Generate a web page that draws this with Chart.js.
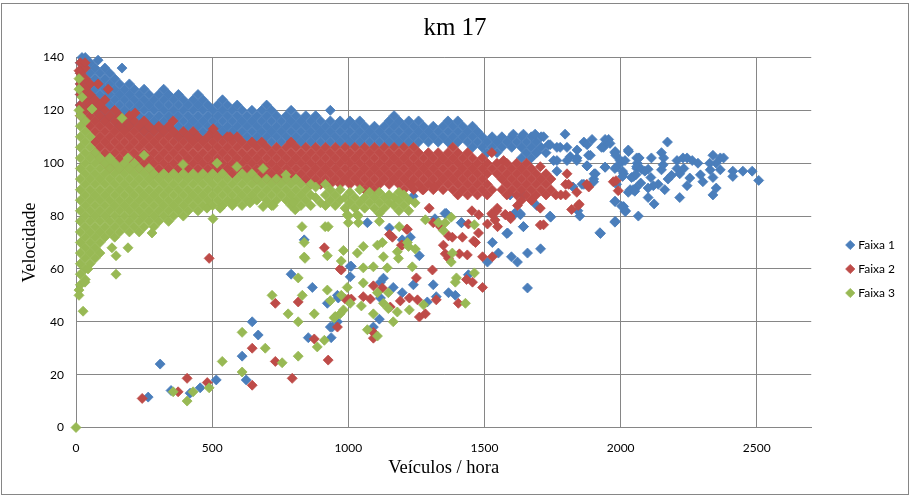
<!DOCTYPE html>
<html>
<head>
<meta charset="utf-8">
<title>km 17</title>
<script src="https://cdn.jsdelivr.net/npm/chart.js@4/dist/chart.umd.min.js"></script>
<style>
  html, body { margin: 0; padding: 0; background: #fff; overflow: hidden; }
  #wrap { position: relative; width: 910px; height: 498px; }
  #frame { position: absolute; left: 1px; top: 3px; width: 906px; height: 490px; border: 1px solid #868686; pointer-events: none; }
</style>
</head>
<body>
<div id="wrap">
  <canvas id="chart" width="910" height="498"></canvas>
  <div id="frame"></div>
</div>
<script>
const xTicks = [0, 500, 1000, 1500, 2000, 2500];
const yTicks = [0, 20, 40, 60, 80, 100, 120, 140];

// dense bands, one row per column: [x, y, y, ...]
const faixa1Colunas = [
  [16,138,134,130,126,122],[34,140,136,132,128,124,120],[52,138,134,130,126,122],[70,136,132,128,124,120],
  [88,134,130,126,122,118],[106,136,132,128,124,120,116],[124,134,130,126,122,118],[142,132,128,124,120,116],
  [160,130,126,122,118,114],[178,128,124,120,116],[196,130,126,122,118,114],[214,128,124,120,116],
  [232,126,122,118,114],[250,128,124,120,116,112],[268,126,122,118,114],[286,124,120,116,112],
  [304,126,122,118,114],[322,128,124,120,116,112],[340,126,122,118,114],[358,124,120,116,112],
  [376,126,122,118,114,110],[394,124,120,116,112],[412,122,118,114,110],[430,124,120,116,112],
  [448,126,122,118,114,110],[466,124,120,116,112],[484,122,118,114,110],[502,120,116,112],[520,122,118,114,110],
  [538,124,120,116,112],[556,122,118,114,110],[574,120,116,112],[592,122,118,114,110],[610,120,116,112],
  [628,118,114,110],[646,120,116,112,108],[664,118,114,110],[682,120,116,112,108],[700,122,118,114,110],
  [718,120,116,112,108],[736,118,114,110],[754,116,112,108],[772,118,114,110],[790,120,116,112,108],
  [808,118,114,110],[826,116,112,108],[844,118,114,110],[862,116,112,108],[880,118,114,110],[898,116,112,108],
  [916,114,110],[934,120,116,112,108],[952,114,110],[970,116,112,108],[988,114,110],[1006,116,112,108],
  [1024,114,110],[1042,116,112,108],[1060,114,110],[1078,112,108],[1096,114,110],[1114,112,108],[1132,114,110],
  [1150,116,112,108],[1168,118,114,110],[1186,116,112,108],[1204,114,110],[1222,116,112,108],[1240,114,110],
  [1258,116,112,108],[1276,114,110],[1294,112,108],[1312,114,110],[1330,112,108],[1348,114,110],[1366,116,112,108],
  [1384,114,110],[1402,116,112,108],[1420,114,110],[1438,112,108],[1456,114,110,106],[1474,112,108],
  [1492,110,106],[1510,108,104],[1528,110,106],[1546,108,104],[1564,110,106],[1582,108],[1600,110,106],[1618,108],
  [1636,110,106,102],[1654,108,104],[1672,110,106,102],[1690,108,104],[1708,110,106],[1726,104]
];
const faixa2Colunas = [
  [16,138,134,130,126,122,118],[34,136,132,128,124,120,116],[52,130,126,122,118,114],[70,124,120,116,112,108,104],
  [88,122,118,114,110,106,102],[106,124,120,116,112,108,104,100],[124,118,114,110,106,102,98],[142,120,116,112,108,104,100],
  [160,118,114,110,106,102,98],[178,116,112,108,104,100],[196,118,114,110,106,102,98],[214,116,112,108,104,100],
  [232,114,110,106,102,98],[250,116,112,108,104,100],[268,114,110,106,102,98],[286,112,108,104,100,96],
  [304,114,110,106,102,98],[322,112,108,104,100,96],[340,114,110,106,102,98],[358,112,108,104,100,96],
  [376,110,106,102,98],[394,112,108,104,100,96],[412,110,106,102,98],[430,112,108,104,100,96],[448,110,106,102,98],
  [466,108,104,100,96],[484,110,106,102,98],[502,112,108,104,100,96],[520,110,106,102,98],[538,108,104,100,96],
  [556,110,106,102,98],[574,108,104,100,96],[592,110,106,102,98],[610,108,104,100,96],[628,106,102,98],
  [646,108,104,100,96],[664,106,102,98,94],[682,108,104,100,96],[700,106,102,98,94],[718,104,100,96],
  [736,106,102,98,94],[754,104,100,96],[772,106,102,98,94],[790,108,104,100,96],[808,106,102,98,94],[826,104,100,96],
  [844,106,102,98,94],[862,104,100,96,92],[880,106,102,98,94],[898,104,100,96,92],[916,106,102,98,94],[934,104,100,96,92],
  [952,106,102,98,94],[970,104,100,96,92],[988,106,102,98,94],[1006,104,100,96,92],[1024,106,102,98,94],[1042,104,100,96,92],
  [1060,106,102,98,94,90],[1078,104,100,96,92],[1096,106,102,98,94,90],[1114,104,100,96,92],[1132,106,102,98,94],
  [1150,104,100,96,92],[1168,106,102,98,94],[1186,104,100,96,92],[1204,106,102,98,94,90],[1222,104,100,96,92],
  [1240,106,102,98,94,90],[1258,104,100,96,92],[1276,102,98,94,90],[1294,104,100,96,92],[1312,102,98,94,90],
  [1330,104,100,96,92],[1348,102,98,94,90],[1366,104,100,96,92],[1384,106,102,98,94,90],[1402,104,100,96,92,88],
  [1420,102,98,94,90],[1438,104,100,96,92,88],[1456,102,98,94,90],[1474,100,96,92,88],
  [1492,102,98,94,90],[1510,100,96,92,88],[1528,98,90],[1546,100,96],[1564,98,94,90],[1582,100,96,92,88],[1600,98,94,90],
  [1618,100,96,92,88],[1636,98,94,90,86],[1654,100,96,92,88],[1672,98,94,90,86],[1690,96,92,88],[1708,94,90],
  [1726,96,92,88],[1744,94,90],[1762,88],[1780,88],[1798,92,88]
];
const faixa3Colunas = [
  [16,54,58,62,66,70,74,78,82,86,90,94,98,102,106,110,114,118],
  [34,56,60,64,68,72,76,80,84,88,92,96,100,104,108,112,116],
  [52,62,66,70,74,78,82,86,90,94,98,102,106,110],
  [70,64,68,72,76,80,84,88,92,96,100,104],
  [88,66,70,74,78,82,86,90,94,98,102],
  [106,72,76,80,84,88,92,96,100],
  [124,74,78,82,86,90,94,98,102],
  [142,72,76,80,84,88,92,96,100],
  [160,74,78,82,86,90,94,98],
  [178,76,80,84,88,92,96,100],
  [196,74,78,82,86,90,94,98],
  [214,76,80,84,88,92,96,100],
  [232,74,78,82,86,90,94,98],
  [250,76,80,84,88,92,96],
  [268,78,82,86,90,94,98],
  [286,76,80,84,88,92,96],
  [304,78,82,86,90,94],
  [322,80,84,88,92,96],
  [340,78,82,86,90,94],
  [358,80,84,88,92,96],
  [376,82,86,90,94],
  [394,80,84,88,92,96],
  [412,82,86,90,94],
  [430,84,88,92,96],
  [448,82,86,90,94],
  [466,84,88,92,96],
  [484,86,90,94],
  [502,84,88,92,96],
  [520,86,90,94],
  [538,84,88,92,96],
  [556,86,90,94],[574,84,88,92],[592,86,90,94],[610,84,88,92,96],[628,86,90,94],[646,88,92,96],
  [664,86,90,94],[682,88,92],[700,86,90,94],[718,84,88,92],[736,86,90,94],[754,88,92],[772,86,90,94],
  [790,84,88,92],[808,86,90,94],[826,84,88,92],[844,86,90],[862,84,88,92],[880,87,91],[898,85],
  [916,84,88,92],[934,86,90],[952,84,88],[970,86,90],[988,83,87],[1006,85,89],[1024,83,87],[1042,85,90],
  [1060,83,87],[1078,85,89],[1096,83,87],[1114,85,89],[1132,83,87],[1150,85,88],[1168,84,87],
  [1186,82,86,89],[1204,84,88],[1222,82,86],[1245,85]
];

// scattered marks outside the bands: [x, y]
const faixa1Pontos = [
  [22,140],[81,139],[169,136],[838,71],[1007,61],[1007,57],[790,58],[868,53],[923,47],[960,50],[960,40],[934,38],
  [647,40],[669,35],[853,34],[937,34],[610,27],[625,18],[309,24],[349,14],[265,11.5],[419,13],[456,15],[515,18],
  [1070,77.5],[1151,75.5],[1198,71],[1228,72],[1261,65],[1011,61],[1129,56.5],[1118,55],[1239,54],[1312,54],
  [1165,53],[1198,51],[1323,49.5],[1368,51],[1393,50],[1118,49],[963,49],[1290,47.5],[1114,41],[1092,38],[941,38],
  [1415,77.5],[1360,81],[1529,70],[1585,73.6],[1643,76],[1743,79.6],[1632,80.5],[1610,81],[1551,66],[1511,62.6],
  [1599,64.6],[1621,62.6],[1658,66],[1706,67.6],[1658,52.8],[1441,57.8],
  [1606,111],[1643,111],[1686,111],[1717,110],[1796,111],[1895,109],[1865,108],[1877,107],[1735,107],[1766,106],
  [1803,106],[1840,105],[1889,103],[1692,104],[1754,101],[1803,101],[1840,102],[1877,99],[1766,101],[1907,96],
  [1901,94],[1825,91],[1865,92],[1594,88],[1643,88],[1692,84],[1613,81],[1631,81],[1741,80],[1843,82],[1850,80],
  [1582,73.4],[1643,76],[1926,73.4],[1238,87.5],[1318,79],[1355,81],[1416,77.5],
  [1741,107],[1778,106],[1815,102.5],[1839,101],[1882,103],[1876,99],[1943,98.5],[1986,98.7],[2005,100.6],[2011,96],
  [2048,95],[2066,102],[2060,98],[1903,96],[1901,93],[1858,92],[1943,109],[1956,109],[1937,106],[2029,104.4],[1980,104.4],
  [1980,85.5],[2011,83.6],[2017,81.7],[1980,78],[2035,90],[1766,97],
  [1949,108],[1930,106],[1961,107.5],[2172,108],[1979,104],[2028,105],[1982,103],[1998,101],[2016,101],[2059,102],
  [2068,102],[2113,102],[2150,104],[2158,102],[2061,100],[2207,101],[2229,102],[2244,102],[2263,101],[2284,100],
  [2339,103],[2366,102],[2378,102],[2351,100],[2327,100],[1943,98.5],[1979,98],[2007,97],[2059,98.7],[2077,97.7],
  [2101,97.7],[2089,97],[2150,97.5],[2156,99.4],[2207,98],[2217,96],[2232,98],[2329,97.5],[2366,97.5],[2412,97],
  [2449,97],[2483,97],[2412,95],[2507,93.5],[2007,95],[2040,94.6],[2056,95.6],[2111,94.6],[2174,94],[2187,95.4],
  [2254,94.4],[2293,95.6],[2339,94.6],[2302,93],[1985,92],[2074,92.5],[2244,91.5],[2138,92],[2120,91.5],[2101,90.6],
  [2162,90],[2056,90.6],[2046,90],[2028,89],[2052,89.4],[2351,90.6],[2339,88],[2101,87],[2217,87],[1979,85.6],
  [2123,84.6],[2004,83.7],[2018,82],[2065,80],[1979,77.7],[1924,73.7]
];
const faixa2Pontos = [
  [81,130],[118,128],[217,119],[357,116],[504,113],[566,110],[11,135],[33,138],
  [489,64],[912,68],[970,60],[989,48.6],[1011,48.6],[732,47],[816,47.5],[875,33.5],[960,38],[647,30],[732,25],[926,25.5],
  [794,18.6],[647,16],[408,18.6],[482,17],[375,13.5],[243,11],
  [1217,75],[1162,72],[1198,69],[1349,69],[1368,72.5],[1382,72],[1419,72],[1460,70.6],[1467,70],[1478,73.6],
  [1312,77.5],[1338,76],[1356,65.7],[1368,64],[1408,65.7],[1437,65.3],[1493,64.6],[1529,64.6],[1511,77],[1548,76],
  [1529,80.5],[1577,80.5],[1596,79],[1717,76.7],[974,59.6],[1309,59.6],[1250,56.6],[1434,56],[1456,55],[1493,53],
  [1092,53.6],[1125,52.8],[1055,49.5],[1081,48.6],[1000,48.6],[1191,47.9],[1224,49],[1254,48.3],[1323,48.3],[1404,47],
  [1283,43],[1261,41.8],[1092,36],[1092,33.8],[1154,45.6],
  [1527,104],[1570,101],[1705,98.7],[1803,96],[1883,91],[1820,82.5],[1848,84.5],[1705,83],[1621,84],[1705,76.6],
  [1576,80.6],[1594,80],[1547,83],[1454,82],[1479,80.5],[1441,77],[1297,83],[1214,75],[1151,73],[1195,69],[1272,90],
  [1229,92],[1317,91],[1973,93],[1983,93.4],[1991,89.6],[1844,84],
  [1809,92],[1839,89],[1876,92],[1674,86],[1527,81],[1539,78.5],[1545,82]
];
const faixa3Pontos = [
  [0,0],[11,132],[11,128],[22,125],[11,120],[59,120.5],[169,117],[250,103],[191,102],[125,101.5],[393,99.5],[518,100],
  [591,98.7],[687,98],[771,95.6],[503,79],[279,73.6],[191,68],[132,68],[147,65],[147,58],[44,60],[33,55],[11,52],[11,50],[26,44],
  [573,85],[639,85],[687,83.6],[724,84],[805,82.4],[797,85],[529,83],[481,83],
  [838,70],[838,64.5],[982,67],[923,65],[1033,66],[974,63],[816,56.6],[720,50],[831,50],[923,52],[996,53],[974,50],
  [934,48],[1007,47],[779,43],[875,43],[816,40],[982,44.5],[970,43],[948,41.5],[610,36],[912,33],[886,30.5],[695,30],
  [816,27],[537,25],[757,24.5],[610,21],[357,13.5],[430,13.5],[489,15],[408,10],
  [996,80.5],[1033,80.5],[1114,81],[1114,78],[1000,77.5],[1037,77.5],[1187,76],[1283,78.6],[1331,77.5],[1356,77.5],
  [1349,74.5],[1378,79.6],[1463,76.7],[1055,68.5],[1129,64.6],[1107,69],[1125,70],[1180,66.5],[1184,64],[1221,68.5],
  [1246,67.5],[1217,70],[1382,66],[1378,62.6],[1055,60.4],[1092,60.8],[1143,60.4],[1235,60.8],[1397,56.6],[1393,55],
  [1463,58.5],[1055,54.7],[1048,46],[1092,43],[1147,51],[1107,51],[1129,47],[1147,45],[1180,43.7],[1224,44.5],[1165,40],
  [1276,46.4],[1430,47],[1070,37],[1107,34.6],[952,42],[830,76],[915,76],[926,76],[841,64],[1036,80],[1000,80]
];

// turns the column rows and the [x, y] lists into the points of one series
const toPoints = (colunas, pontos) => [
  ...colunas.flatMap(([x, ...ys]) => ys.map(y => ({ x, y }))),
  ...pontos.map(([x, y]) => ({ x, y }))
];

const serif = '"Liberation Serif", "Times New Roman", serif';
const labelFont = { family: 'Lato, sans-serif', size: 12 };
const gridColor = '#868686';

const serie = (label, colunas, pontos, color, order) => ({
  label, order, data: toPoints(colunas, pontos),
  backgroundColor: color, borderColor: color, borderWidth: 0.8,
  pointStyle: 'rectRot', pointRadius: 5, clip: false
});

// legend sits further from the plot than Chart.js leaves, title is centred on the whole picture
const nudgeBoxes = {
  id: 'nudgeBoxes',
  afterLayout(chart) {
    chart.legend.left += 25; chart.legend.right += 25;
    chart.titleBlock.left += 15; chart.titleBlock.right += 15;
  }
};

new Chart(document.getElementById('chart'), {
  type: 'scatter',
  data: {
    datasets: [
      serie('Faixa 1', faixa1Colunas, faixa1Pontos, '#4A7EBB', 3),
      serie('Faixa 2', faixa2Colunas, faixa2Pontos, '#BE4B48', 2),
      serie('Faixa 3', faixa3Colunas, faixa3Pontos, '#98B954', 1)
    ]
  },
  plugins: [nudgeBoxes],
  options: {
    responsive: false,
    animation: false,
    layout: { padding: { top: 12, right: 30, bottom: 19, left: 0 } },
    plugins: {
      title: { display: true, text: 'km 17', color: '#000', font: { family: serif, size: 25, weight: 'normal' }, padding: { top: 1, bottom: 14.5 } },
      tooltip: { enabled: false },
      legend: {
        position: 'right',
        title: { display: true, text: ' ', font: { size: 10 }, padding: { top: 35, bottom: 0 } },
        labels: {
          usePointStyle: true, pointStyle: 'rectRot', boxWidth: 4, boxHeight: 6.5, padding: 12,
          color: '#000', font: labelFont,
          sort: (a, b) => a.datasetIndex - b.datasetIndex
        }
      }
    },
    scales: {
      x: {
        type: 'linear', min: 0, max: 2700,
        afterBuildTicks: s => { s.ticks = xTicks.map(value => ({ value })); },
        afterFit: s => { s.height = 51.5; },
        grid: { color: gridColor, drawTicks: false },
        border: { color: gridColor },
        ticks: { color: '#000', font: labelFont, padding: 13, maxRotation: 0, callback: v => String(v) },
        title: { display: true, text: 'Veículos / hora', color: '#000', font: { family: serif, size: 18.5 }, padding: { top: 6, bottom: 0 } }
      },
      y: {
        type: 'linear', min: 0, max: 140,
        afterBuildTicks: s => { s.ticks = yTicks.map(value => ({ value })); },
        afterFit: s => { s.width = 76; },
        grid: { color: gridColor, drawTicks: false },
        border: { color: gridColor },
        ticks: { color: '#000', font: labelFont, padding: 12, callback: v => String(v) },
        title: { display: true, text: 'Velocidade', color: '#000', font: { family: serif, size: 18 }, padding: { top: 19, bottom: 0 } }
      }
    }
  }
});
</script>
</body>
</html>
